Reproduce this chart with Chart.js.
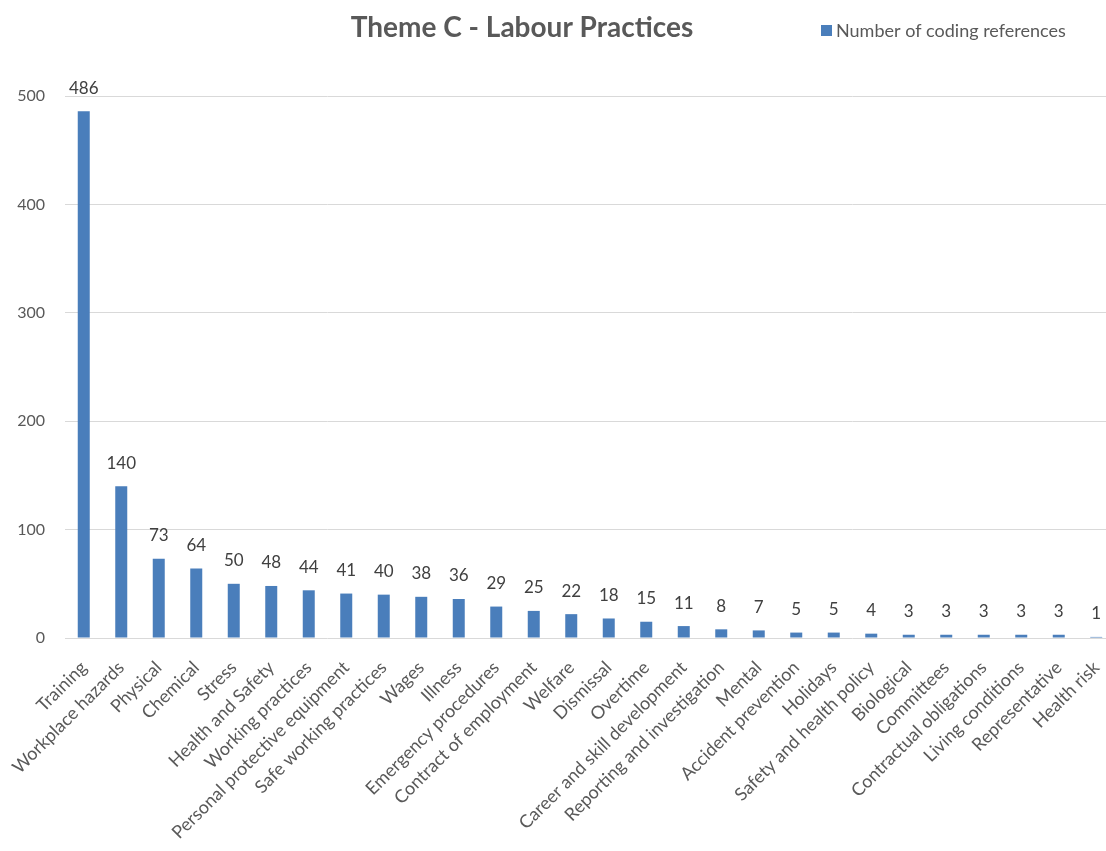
<!DOCTYPE html>
<html>
<head>
<meta charset="utf-8">
<script src="https://cdn.jsdelivr.net/npm/chart.js@4"></script>
<style>
  html, body { margin: 0; padding: 0; background: #fff; overflow: hidden; }
  #wrap { width: 1106px; height: 851px; overflow: hidden; }
</style>
</head>
<body>
<!-- the plot runs a few pixels past the right edge of the page -->
<div id="wrap"><canvas id="themeChart" width="1115" height="851"></canvas></div>
<script>
// Labour practices coding references, sorted high to low
const categories = [
  'Training', 'Workplace hazards', 'Physical', 'Chemical', 'Stress',
  'Health and Safety', 'Working practices', 'Personal protective equipment',
  'Safe working practices', 'Wages', 'Illness', 'Emergency procedures',
  'Contract of employment', 'Welfare', 'Dismissal', 'Overtime',
  'Career and skill development', 'Reporting and investigation', 'Mental',
  'Accident prevention', 'Holidays', 'Safety and health policy', 'Biological',
  'Committees', 'Contractual obligations', 'Living conditions',
  'Representative', 'Health risk'
];
const references = [486, 140, 73, 64, 50, 48, 44, 41, 40, 38, 36, 29, 25, 22,
  18, 15, 11, 8, 7, 5, 5, 4, 3, 3, 3, 3, 3, 1];
const yMax = 500;
const yStep = 100;

const chartTitle = 'Theme C - Labour Practices';
const seriesName = 'Number of coding references';
const barColor = '#4A7EBB';
const fontFamily = 'Lato, "Open Sans", sans-serif';

Chart.defaults.font.family = fontFamily;

// numbers above each bar
const valueLabels = {
  id: 'valueLabels',
  afterDatasetsDraw(chart) {
    const ctx = chart.ctx;
    const meta = chart.getDatasetMeta(0);
    ctx.save();
    ctx.font = '17px ' + fontFamily;
    ctx.fillStyle = '#404040';
    ctx.textAlign = 'center';
    ctx.textBaseline = 'middle';
    meta.data.forEach((bar, i) => {
      ctx.fillText(String(references[i]), bar.x, bar.y - 23);
    });
    ctx.restore();
  }
};

// title and legend share the top row
const header = {
  id: 'header',
  afterDraw(chart) {
    const ctx = chart.ctx;
    const ds = chart.data.datasets[0];
    ctx.save();
    ctx.textBaseline = 'middle';
    ctx.fillStyle = '#595959';
    ctx.font = 'bold 28px ' + fontFamily;
    ctx.textAlign = 'center';
    ctx.fillText(chartTitle, 522, 28);

    ctx.fillStyle = ds.backgroundColor;
    ctx.fillRect(821, 25, 11, 11);
    ctx.fillStyle = '#595959';
    ctx.font = '18px ' + fontFamily;
    ctx.textAlign = 'left';
    ctx.fillText(ds.label, 836, 31);
    ctx.restore();
  }
};

new Chart(document.getElementById('themeChart'), {
  type: 'bar',
  data: {
    labels: categories,
    datasets: [{
      label: seriesName,
      data: references,
      backgroundColor: barColor,
      barPercentage: 0.32,
      categoryPercentage: 1,
      clip: false
    }]
  },
  options: {
    responsive: false,
    animation: false,
    layout: { padding: { top: 96, left: 0, right: 0, bottom: 0 } },
    plugins: {
      legend: { display: false },
      title: { display: false },
      tooltip: { enabled: false }
    },
    scales: {
      x: {
        grid: { display: false },
        border: { display: false },
        ticks: {
          autoSkip: false,
          maxRotation: 45,
          minRotation: 45,
          padding: 11,
          color: '#595959',
          font: { size: 18 }
        },
        afterFit(scale) {
          scale.height = 213;
          scale.paddingLeft = 0;
          scale.paddingRight = 0;
        }
      },
      y: {
        min: 0,
        max: yMax,
        grid: { color: '#D9D9D9', drawTicks: false },
        border: { display: false },
        ticks: {
          stepSize: yStep,
          padding: 20,
          color: '#595959',
          font: { size: 16 }
        },
        afterFit(scale) { scale.width = 65; }
      }
    }
  },
  plugins: [valueLabels, header]
});
</script>
</body>
</html>
